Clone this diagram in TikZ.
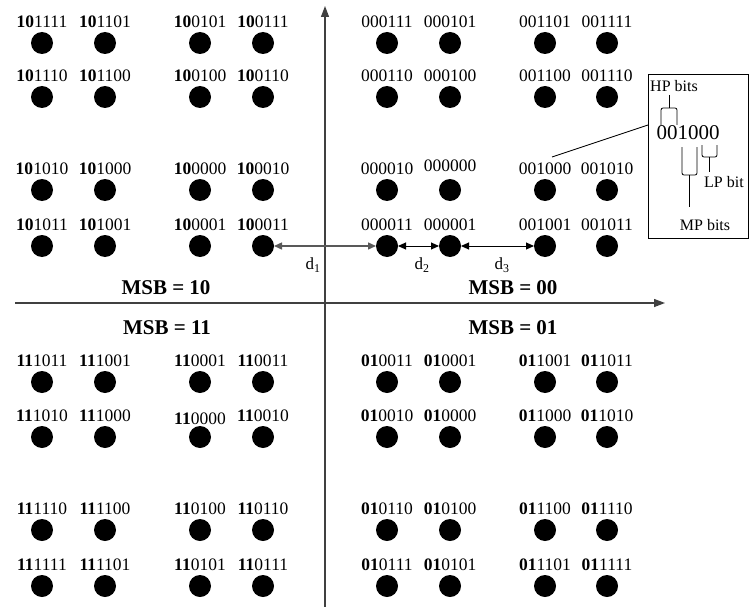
\documentclass[tikz,border=0pt]{standalone}
\usepackage{fontspec}
\setmainfont{Liberation Serif}
\usetikzlibrary{arrows.meta}
\tikzset{
  dot/.style={circle,fill=black,inner sep=0pt,outer sep=0pt,minimum size=22pt},
  lab/.style={inner sep=0pt,font=\fontsize{17.5}{20}\selectfont},
  msb/.style={inner sep=0pt,font=\fontsize{21}{24}\selectfont\bfseries},
  dlab/.style={inner sep=0pt,font=\fontsize{17}{20}\selectfont},
  ins/.style={inner sep=0pt,font=\fontsize{16}{18}\selectfont},
  axis/.style={draw=black!75,line width=1.3pt,-{Triangle[length=11pt,width=8pt]}},
  dim/.style={line width=1pt,{Triangle[length=8pt,width=7pt]}-{Triangle[length=8pt,width=7pt]}},
  brk/.style={line width=0.8pt,rounded corners=2pt}
}
\newcommand\qam[5][21]{%
  \node[dot] (d#4#5) at (#2,#3) {};
  \node[lab] (l#4#5) at (#2,#3-#1) {\textbf{#4}#5};}
\begin{document}
\begin{tikzpicture}[x=1pt,y=-1pt]
\useasboundingbox (0,0) rectangle (749,607);
% axes
\coordinate (xs) at (15,303);
\coordinate (xe) at (665,303);
\coordinate (ys) at (325,607);
\coordinate (ye) at (325,6);
\draw[axis] (xs) -- (xe);
\draw[axis] (ys) -- (ye);
% row 1
\qam{42}{43}{10}{1111}\qam{105}{43}{10}{1101}\qam{200}{43}{10}{0101}\qam{263}{43}{10}{0111}
\qam{387}{43}{}{000111}\qam{450}{43}{}{000101}\qam{545}{43}{}{001101}\qam{607}{43}{}{001111}
% row 2
\qam{42}{97}{10}{1110}\qam{105}{97}{10}{1100}\qam{200}{97}{10}{0100}\qam{263}{97}{10}{0110}
\qam{387}{97}{}{000110}\qam{450}{97}{}{000100}\qam{545}{97}{}{001100}\qam{607}{97}{}{001110}
% row 3
\qam{42}{190}{10}{1010}\qam{105}{190}{10}{1000}\qam{200}{190}{10}{0000}\qam{263}{190}{10}{0010}
\qam{387}{190}{}{000010}\qam[24]{450}{190}{}{000000}\qam{545}{190}{}{001000}\qam{607}{190}{}{001010}
% row 4
\qam{42}{246}{10}{1011}\qam{105}{246}{10}{1001}\qam{200}{246}{10}{0001}\qam{263}{246}{10}{0011}
\qam{387}{246}{}{000011}\qam{450}{246}{}{000001}\qam{545}{246}{}{001001}\qam{607}{246}{}{001011}
% row 5
\qam{42}{382}{11}{1011}\qam{105}{382}{11}{1001}\qam{200}{382}{11}{0001}\qam{263}{382}{11}{0011}
\qam{387}{382}{01}{0011}\qam{450}{382}{01}{0001}\qam{545}{382}{01}{1001}\qam{607}{382}{01}{1011}
% row 6
\qam{42}{437}{11}{1010}\qam{105}{437}{11}{1000}\qam[18]{200}{437}{11}{0000}\qam{263}{437}{11}{0010}
\qam{387}{437}{01}{0010}\qam{450}{437}{01}{0000}\qam{545}{437}{01}{1000}\qam{607}{437}{01}{1010}
% row 7
\qam{42}{530}{11}{1110}\qam{105}{530}{11}{1100}\qam{200}{530}{11}{0100}\qam{263}{530}{11}{0110}
\qam{387}{530}{01}{0110}\qam{450}{530}{01}{0100}\qam{545}{530}{01}{1100}\qam{607}{530}{01}{1110}
% row 8
\qam{42}{586}{11}{1111}\qam{105}{586}{11}{1101}\qam{200}{586}{11}{0101}\qam{263}{586}{11}{0111}
\qam{387}{586}{01}{0111}\qam{450}{586}{01}{0101}\qam{545}{586}{01}{1101}\qam{607}{586}{01}{1111}
% MSB labels
\node[msb] (m10) at (166,288) {MSB = 10};
\node[msb] (m00) at (513,288) {MSB = 00};
\node[msb] (m11) at (167,328) {MSB = 11};
\node[msb] (m01) at (513,328) {MSB = 01};
% distances
\draw[dim,draw=black!65,fill=black!65,line width=1.4pt] (d100011.east) -- (d000011.west);
\draw[dim] (d000011.east) -- (d000001.west);
\draw[dim] (d000001.east) -- (d001001.west);
\node[dlab] (dd1) at (313,265) {d\textsubscript{1}};
\node[dlab] (dd2) at (422,265) {d\textsubscript{2}};
\node[dlab] (dd3) at (502,265) {d\textsubscript{3}};
% inset
\node[draw,line width=1pt,minimum width=100pt,minimum height=163pt,inner sep=0pt] (inset) at (698,156.5) {};
\coordinate (cs) at (552,157);
\coordinate (ce) at (648,125);
\draw[line width=0.9pt] (cs) -- (ce);
\node[ins,anchor=west] (hp) at (650,86) {HP bits};
\node[inner sep=0pt,font=\fontsize{21}{24}\selectfont] (code) at (688,133) {001000};
\node[ins,anchor=west] (lp) at (704,182) {LP bit};
\node[ins] (mp) at (705,225) {MP bits};
% brackets
\draw[brk] (661,125) -- (661,108) -- (677,108) -- (677,125);
\draw[line width=0.8pt] (669,95) -- (669,108);
\draw[brk] (682,147) -- (682,175) -- (697,175) -- (697,147);
\draw[line width=0.8pt] (689.5,175) -- (689.5,207);
\draw[brk] (702,145) -- (702,157) -- (717,157) -- (717,145);
\draw[line width=0.8pt] (709.5,157) -- (709.5,172);
\end{tikzpicture}
\end{document}
